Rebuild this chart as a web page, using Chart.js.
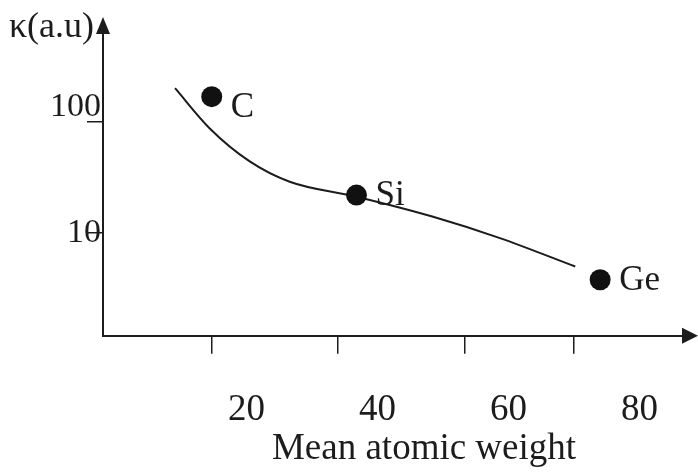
<!DOCTYPE html>
<html>
<head>
<meta charset="utf-8">
<script src="https://cdn.jsdelivr.net/npm/chart.js@4.4.1/dist/chart.umd.min.js"></script>
<style>
  html, body { margin: 0; padding: 0; background: #fff; }
</style>
</head>
<body>
<canvas id="kappaChart" width="698" height="472"></canvas>
<script>
// thermal conductivity (arbitrary units) against mean atomic weight
const elements = ['C', 'Si', 'Ge'];
const atomicWeight = [14.7, 36.8, 74.0];
const kappa = [168, 21.9, 3.8];

// hand-drawn trend curve through the points
const curveX = [9.1, 14.4, 20.5, 26.6, 36.8, 48.5, 58.7, 70.2];
const curveY = [200, 87, 44, 28.9, 21.2, 14.0, 9.0, 5.0];

const xTickLabels = [20, 40, 60, 80];
const xTickMarks = [14.7, 34.0, 53.4, 70.0];
const yTickMarks = [10, 100];

const xTitle = 'Mean atomic weight';
const yTitle = '\u03ba(a.u)';

const ink = '#1c1c1c';
const serif = "'Liberation Serif', 'Times New Roman', serif";

Chart.defaults.font.family = serif;
Chart.defaults.font.size = 37;
Chart.defaults.color = ink;

// arrowheads, axis titles and the element names next to each dot
const decor = {
  id: 'decor',
  afterDraw(chart) {
    const { ctx, chartArea: a } = chart;
    ctx.save();
    ctx.fillStyle = ink;

    ctx.beginPath();
    ctx.moveTo(a.left, a.top - 16);
    ctx.lineTo(a.left - 7, a.top + 1);
    ctx.lineTo(a.left + 7, a.top + 1);
    ctx.closePath();
    ctx.fill();

    ctx.beginPath();
    ctx.moveTo(a.right + 15, a.bottom);
    ctx.lineTo(a.right - 1, a.bottom - 8);
    ctx.lineTo(a.right - 1, a.bottom + 8);
    ctx.closePath();
    ctx.fill();

    ctx.textBaseline = 'middle';
    ctx.font = '36px ' + serif;
    ctx.textAlign = 'right';
    ctx.fillText(yTitle, a.left - 9, a.top - 5);

    ctx.font = '37px ' + serif;
    ctx.textAlign = 'center';
    ctx.textBaseline = 'alphabetic';
    ctx.fillText(xTitle, (a.left + a.right) / 2 + 31, a.bottom + 123);

    ctx.textBaseline = 'middle';
    ctx.font = '35px ' + serif;
    ctx.textAlign = 'left';
    chart.getDatasetMeta(1).data.forEach((pt, i) => {
      ctx.fillText(elements[i], pt.x + 19, pt.y + (i === 0 ? 11 : 1));
    });
    ctx.restore();
  }
};

new Chart(document.getElementById('kappaChart'), {
  type: 'scatter',
  data: {
    datasets: [
      {
        data: curveX.map((x, i) => ({ x, y: curveY[i] })),
        showLine: true,
        cubicInterpolationMode: 'monotone',
        borderColor: ink,
        borderWidth: 2,
        pointRadius: 0,
        order: 2
      },
      {
        data: atomicWeight.map((x, i) => ({ x, y: kappa[i] })),
        pointRadius: 10.5,
        pointHoverRadius: 10.5,
        backgroundColor: '#111',
        borderWidth: 0,
        order: 1
      }
    ]
  },
  options: {
    responsive: false,
    animation: false,
    layout: { padding: { left: 50, top: 33, right: 15, bottom: 0 } },
    plugins: { legend: { display: false }, tooltip: { enabled: false } },
    scales: {
      x: {
        type: 'linear',
        position: 'bottom',
        min: -1.9,
        max: 86.65,
        border: { display: true, color: ink, width: 2 },
        grid: { drawOnChartArea: false, tickLength: 18, color: ink, lineWidth: 1.5 },
        ticks: { display: false, padding: 0 },
        afterBuildTicks: s => { s.ticks = xTickMarks.map(value => ({ value })); },
        afterFit: s => { s.height = 18; }
      },
      xNum: {
        type: 'linear',
        axis: 'x',
        position: 'bottom',
        min: -1.9,
        max: 86.65,
        border: { display: false },
        grid: { display: false },
        ticks: { color: ink, padding: 26, maxRotation: 0, autoSkip: false },
        afterBuildTicks: s => { s.ticks = xTickLabels.map(value => ({ value })); },
        afterFit: s => { s.height = 118.3; }
      },
      y: {
        type: 'logarithmic',
        min: 1.195,
        max: 626.7,
        border: { display: true, color: ink, width: 2 },
        grid: { drawOnChartArea: false, tickLength: 16, color: ink, lineWidth: 1.5 },
        ticks: {
          color: ink,
          padding: -14,
          font: { size: 34, lineHeight: '30px' },
          callback: v => (v === 100 ? ['100', ''] : String(v))
        },
        afterBuildTicks: s => { s.ticks = yTickMarks.map(value => ({ value })); },
        afterFit: s => { s.width = 53; }
      }
    }
  },
  plugins: [decor]
});
</script>
</body>
</html>
